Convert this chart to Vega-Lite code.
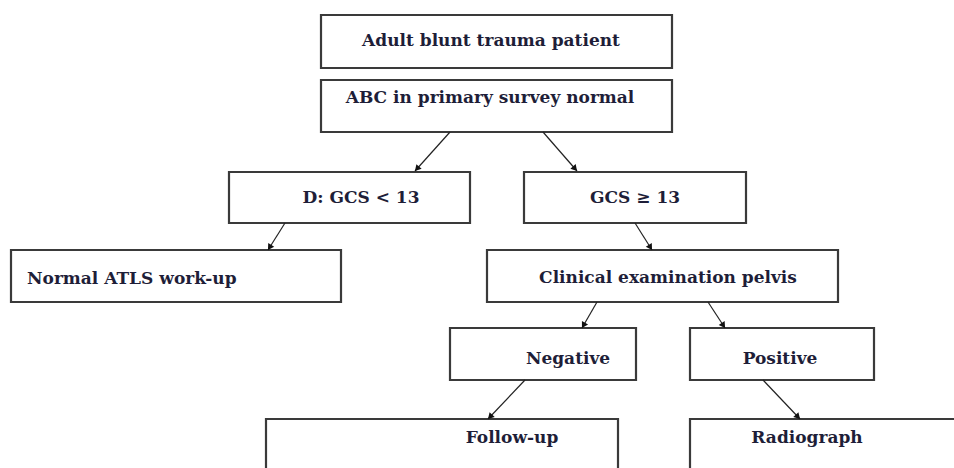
{
  "$schema": "https://vega.github.io/schema/vega-lite/v6.json",
  "width": 954,
  "height": 468,
  "padding": 0,
  "autosize": {"type": "fit", "contains": "padding"},
  "background": "white",
  "config": {"view": {"stroke": null}},
  "datasets": {
    "boxes": [
      {"id": "start", "x": 321, "x2": 672, "y": 15, "y2": 68},
      {"id": "abc", "x": 321, "x2": 672, "y": 80, "y2": 132},
      {"id": "gcslow", "x": 229, "x2": 470, "y": 172, "y2": 223},
      {"id": "gcshigh", "x": 524, "x2": 746, "y": 172, "y2": 223},
      {"id": "atls", "x": 11, "x2": 341, "y": 250, "y2": 302},
      {"id": "clin", "x": 487, "x2": 838, "y": 250, "y2": 302},
      {"id": "neg", "x": 450, "x2": 636, "y": 328, "y2": 380},
      {"id": "pos", "x": 690, "x2": 874, "y": 328, "y2": 380},
      {"id": "follow", "x": 266, "x2": 618, "y": 419, "y2": 495},
      {"id": "radio", "x": 690, "x2": 990, "y": 419, "y2": 495}
    ],
    "arrows": [
      {"from": "abc", "to": "gcslow", "x": 450, "y": 132, "x2": 415, "y2": 171},
      {"from": "abc", "to": "gcshigh", "x": 543, "y": 132, "x2": 577, "y2": 171},
      {"from": "gcslow", "to": "atls", "x": 285, "y": 223, "x2": 268, "y2": 250},
      {"from": "gcshigh", "to": "clin", "x": 635, "y": 223, "x2": 652, "y2": 250},
      {"from": "clin", "to": "neg", "x": 597, "y": 302, "x2": 582, "y2": 328},
      {"from": "clin", "to": "pos", "x": 708, "y": 302, "x2": 725, "y2": 328},
      {"from": "neg", "to": "follow", "x": 525, "y": 380, "x2": 488, "y2": 419},
      {"from": "pos", "to": "radio", "x": 763, "y": 380, "x2": 800, "y2": 419}
    ],
    "labels": [
      {"label": "Adult blunt trauma patient", "x": 491, "y": 41},
      {"label": "ABC in primary survey normal", "x": 490, "y": 98},
      {"label": "D: GCS < 13", "x": 361, "y": 198},
      {"label": "GCS ≥ 13", "x": 635, "y": 198},
      {"label": "Clinical examination pelvis", "x": 668, "y": 278},
      {"label": "Negative", "x": 568, "y": 359},
      {"label": "Positive", "x": 780, "y": 359},
      {"label": "Follow-up", "x": 512, "y": 438},
      {"label": "Radiograph", "x": 807, "y": 438}
    ],
    "leftlabels": [
      {"label": "Normal ATLS work-up", "x": 27, "y": 279}
    ]
  },
  "layer": [
    {
      "data": {"name": "boxes"},
      "mark": {"type": "rect", "fill": "white", "stroke": "#3a3a3a", "strokeWidth": 2.2, "clip": true},
      "encoding": {
        "x": {"field": "x", "type": "quantitative", "scale": {"domain": [0, 954], "nice": false, "zero": false}, "axis": null},
        "x2": {"field": "x2"},
        "y": {"field": "y", "type": "quantitative", "scale": {"domain": [0, 468], "nice": false, "zero": false, "reverse": true}, "axis": null},
        "y2": {"field": "y2"}
      }
    },
    {
      "data": {"name": "arrows"},
      "mark": {"type": "rule", "stroke": "#222222", "strokeWidth": 1.2},
      "encoding": {
        "x": {"field": "x", "type": "quantitative", "scale": {"domain": [0, 954], "nice": false, "zero": false}, "axis": null},
        "x2": {"field": "x2"},
        "y": {"field": "y", "type": "quantitative", "scale": {"domain": [0, 468], "nice": false, "zero": false, "reverse": true}, "axis": null},
        "y2": {"field": "y2"}
      }
    },
    {
      "data": {"name": "arrows"},
      "transform": [
        {"calculate": "atan2(datum.x2 - datum.x, -(datum.y2 - datum.y)) * 180 / PI", "as": "ang"},
        {"calculate": "sqrt(pow(datum.x2 - datum.x, 2) + pow(datum.y2 - datum.y, 2))", "as": "len"},
        {"calculate": "datum.x2 - 4 * (datum.x2 - datum.x) / datum.len", "as": "hx"},
        {"calculate": "datum.y2 - 4 * (datum.y2 - datum.y) / datum.len", "as": "hy"}
      ],
      "mark": {"type": "point", "shape": "triangle", "filled": true, "color": "#111111", "size": 50, "opacity": 1},
      "encoding": {
        "x": {"field": "hx", "type": "quantitative", "scale": {"domain": [0, 954], "nice": false, "zero": false}, "axis": null},
        "y": {"field": "hy", "type": "quantitative", "scale": {"domain": [0, 468], "nice": false, "zero": false, "reverse": true}, "axis": null},
        "angle": {"field": "ang", "type": "quantitative", "scale": null}
      }
    },
    {
      "data": {"name": "labels"},
      "mark": {"type": "text", "font": "DejaVu Serif", "fontWeight": "bold", "fontSize": 17, "color": "#1e1e38", "align": "center", "baseline": "middle"},
      "encoding": {
        "x": {"field": "x", "type": "quantitative", "scale": {"domain": [0, 954], "nice": false, "zero": false}, "axis": null},
        "y": {"field": "y", "type": "quantitative", "scale": {"domain": [0, 468], "nice": false, "zero": false, "reverse": true}, "axis": null},
        "text": {"field": "label"}
      }
    },
    {
      "data": {"name": "leftlabels"},
      "mark": {"type": "text", "font": "DejaVu Serif", "fontWeight": "bold", "fontSize": 17, "color": "#1e1e38", "align": "left", "baseline": "middle"},
      "encoding": {
        "x": {"field": "x", "type": "quantitative", "scale": {"domain": [0, 954], "nice": false, "zero": false}, "axis": null},
        "y": {"field": "y", "type": "quantitative", "scale": {"domain": [0, 468], "nice": false, "zero": false, "reverse": true}, "axis": null},
        "text": {"field": "label"}
      }
    }
  ]
}
